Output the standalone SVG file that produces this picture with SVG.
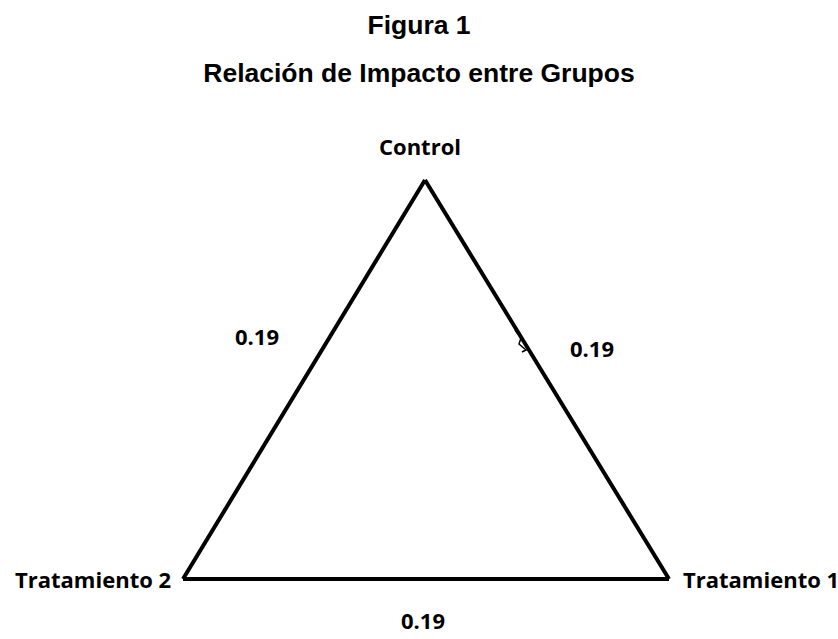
<svg xmlns="http://www.w3.org/2000/svg" width="838" height="639" viewBox="0 0 838 639">
<style>
.title{font-family:"Liberation Sans",Arial,sans-serif;font-weight:bold;font-size:26.5px;fill:#000;text-anchor:middle}
.lbl{font-family:"Open Sans","Noto Sans",sans-serif;font-weight:bold;font-size:22px;fill:#000}
.edge{fill:none;stroke:#000;stroke-width:4;stroke-linejoin:miter}
</style>
<rect width="838" height="639" fill="#fff"/>
<text class="title" x="419" y="34">Figura 1</text>
<text class="title" x="419" y="82">Relación de Impacto entre Grupos</text>
<g id="connectors">
<path class="edge" d="M425,180 L183,579"/>
<path class="edge" d="M425,180 L669,579"/>
<path class="edge" d="M183,579 L669,579"/>
<path d="M515,330 L521,338 L519,344 L526,350 L522,352" fill="none" stroke="#000" stroke-width="1.5"/>
</g>
<g id="control"><text class="lbl" x="420" y="155" text-anchor="middle">Control</text></g>
<g id="tratamiento2"><text class="lbl" x="15" y="588">Tratamiento 2</text></g>
<g id="tratamiento1"><text class="lbl" x="683" y="588">Tratamiento 1</text></g>
<g id="labels">
<text class="lbl" x="257" y="345" text-anchor="middle">0.19</text>
<text class="lbl" x="592" y="357" text-anchor="middle">0.19</text>
<text class="lbl" x="423" y="629" text-anchor="middle">0.19</text>
</g>
</svg>
